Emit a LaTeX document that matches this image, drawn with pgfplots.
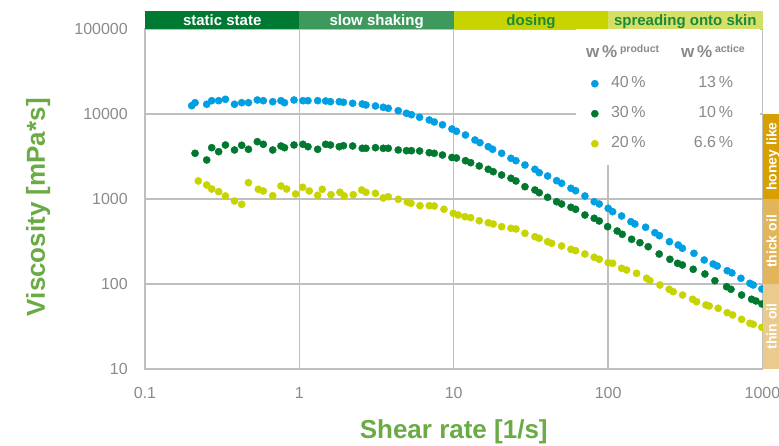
\documentclass[border=0pt]{standalone}
\usepackage{fontspec}
\setmainfont{Liberation Sans}
\usepackage{pgfplots}
\pgfplotsset{compat=1.18}
\definecolor{cblue}{HTML}{009FE3}
\definecolor{cgreen}{HTML}{00782F}
\definecolor{cyellow}{HTML}{C8D400}
\definecolor{labgreen}{HTML}{6AAB45}
\definecolor{tickgray}{HTML}{8A8A8A}
\definecolor{gridgray}{HTML}{BFBFBF}
\definecolor{bandA}{HTML}{007A33}
\definecolor{bandB}{HTML}{3D9A5C}
\definecolor{bandC}{HTML}{C8D400}
\definecolor{bandD}{HTML}{D5DF66}
\definecolor{bandtext}{HTML}{1A8A3A}
\definecolor{choney}{HTML}{D89F00}
\definecolor{cthick}{HTML}{E3B55A}
\definecolor{cthin}{HTML}{EBCB8D}
\begin{document}
\begin{tikzpicture}[x=1pt,y=1pt]
\begin{axis}[
  at={(0pt,0pt)}, anchor=south west,
  scale only axis, width=617.5pt, height=340pt,
  xmode=log, ymode=log,
  xmin=0.1, xmax=1000, ymin=10, ymax=100000,
  xtick={0.1,1,10,100,1000}, xticklabels={0.1,1,10,100,1000},
  ytick={10,100,1000,10000,100000}, yticklabels={10,100,1000,10000,100000},
  xminorticks=false, yminorticks=false,
  major tick length=0pt,
  grid=major, major grid style={draw=gridgray, line width=1.3pt},
  axis line style={draw=gridgray, line width=1.3pt},
  tick label style={font=\fontsize{16}{16}\selectfont, text=tickgray},
  xticklabel style={anchor=north, inner sep=0pt, yshift=-18pt},
  yticklabel style={anchor=east, inner sep=0pt, xshift=-17pt},
  xlabel={Shear rate [1/s]}, ylabel={Viscosity [mPa*s]},
  label style={font=\fontsize{26}{26}\selectfont\bfseries, text=labgreen},
  xlabel style={at={(axis description cs:0.5,-0.185)}, anchor=center},
  ylabel style={at={(axis description cs:-0.173,0.476)}, anchor=center},
  legend cell align=left,
  legend image code/.code={\fill (0pt,0pt) circle (3.6pt);},
  legend style={at={(axis description cs:0.722,0.972)}, anchor=north west,
    draw=none, fill=none, inner sep=0pt, row sep=0pt, column sep=12.4pt,
    font=\fontsize{16}{16}\selectfont, text=tickgray,
    nodes={inner xsep=0pt, inner ysep=7pt, text height=12pt, text depth=4pt}},
]
\fill[white] (rel axis cs:0.698,0.6) rectangle (rel axis cs:0.996,0.999);
\addlegendimage{empty legend}
\addlegendentry{\hspace*{-25pt}\makebox[95pt][l]{\fontsize{17}{17}\selectfont\bfseries w\,\%\,\raisebox{5pt}{\fontsize{10.5}{10.5}\selectfont product}}{\fontsize{17}{17}\selectfont\bfseries w\,\%\,\raisebox{5pt}{\fontsize{10.5}{10.5}\selectfont actice}}}
\addplot[only marks, mark=*, mark size=3.6pt, color=cblue] coordinates {
(0.2007,12520) (0.211,13580) (0.251,13010) (0.2704,14340) (0.300,14340) (0.332,14890) (0.380,13010) (0.423,13580) (0.468,13580) (0.534,14610) (0.584,14340) (0.672,13950) (0.760,14340) (0.801,13580) (0.923,14610) (1.055,14340) (1.137,14340) (1.314,14340) (1.480,14220) (1.590,13950) (1.813,13950) (1.930,13730) (2.214,13360) (2.555,13110) (2.700,12760) (3.111,12420) (3.495,11990) (3.765,11670) (4.37,10930) (4.94,10190) (5.32,9810) (6.01,9150) (6.94,8500) (7.48,8050) (8.45,7465) (9.73,6660) (10.41,6260) (11.91,5660) (13.72,4944) (14.78,4597) (16.73,4125) (17.86,3843) (20.43,3449) (23.48,3011) (25.28,2821) (28.92,2512) (33.57,2236) (35.79,2039) (40.56,1865) (46.39,1642) (49.99,1530) (57.43,1336) (61.58,1252) (70.74,1085) (81.28,929) (87.6,873) (100.1,777) (106.9,709) (122.3,631) (140.5,541) (149.1,508) (175.0,465) (201.0,401) (214.9,370) (249.5,314.5) (284.4,287.6) (302.8,263) (359.5,229.7) (419.3,191.6) (479.4,171.9) (508.8,162.8) (590.8,143.4) (633.7,135) (724.6,116.7) (828.7,101.9) (870.7,97.3) (991,87.3)
};
\addlegendentry{\makebox[70pt][l]{40\,\%}\makebox[52pt][r]{13\,\%}}
\addplot[only marks, mark=*, mark size=3.6pt, color=cgreen] coordinates {
(0.211,3449) (0.251,2876) (0.2704,4013) (0.300,3602) (0.332,4318) (0.380,3771) (0.423,4283) (0.468,3843) (0.534,4722) (0.584,4400) (0.672,3771) (0.760,4202) (0.801,4013) (0.923,4318) (1.055,4400) (1.137,4123) (1.314,3843) (1.480,4400) (1.590,4318) (1.813,4123) (1.930,4238) (2.214,4202) (2.555,3948) (2.700,3948) (3.111,4013) (3.495,3948) (3.765,3948) (4.37,3771) (4.94,3700) (5.32,3700) (6.01,3670) (6.94,3505) (7.48,3449) (8.45,3293) (9.73,3077) (10.41,3036) (11.91,2821) (12.87,2674) (14.63,2445) (16.73,2236) (18.02,2095) (20.43,1916) (23.48,1752) (25.28,1629) (28.92,1395) (33.57,1276) (35.79,1186) (40.56,1047) (46.39,929) (49.99,873) (57.43,798.6) (61.58,756.8) (70.74,648.3) (81.28,592.9) (87.6,551) (99.3,472.3) (114.5,420.2) (123.4,384.3) (142,335.7) (160.7,306.1) (181.8,274.7) (214.2,225.4) (251.3,195.3) (281.8,175.2) (302.8,167.3) (355.8,148.9) (423.6,131.1) (491.7,109.3) (585.5,92.9) (625,86.6) (732.3,74.2) (850,66.1) (907,63.1) (991,58.2)
};
\addlegendentry{\makebox[70pt][l]{30\,\%}\makebox[52pt][r]{10\,\%}}
\addplot[only marks, mark=*, mark size=3.6pt, color=cyellow] coordinates {
(0.2214,1629) (0.251,1461) (0.2704,1311) (0.300,1219) (0.332,1085) (0.380,947) (0.423,866) (0.468,1555) (0.542,1301) (0.584,1242) (0.672,1094) (0.760,1422) (0.827,1311) (0.946,1145) (1.050,1373) (1.159,1242) (1.314,1106) (1.407,1301) (1.602,1124) (1.832,1199) (1.953,1085) (2.234,1124) (2.532,1276) (2.700,1199) (3.11,1167) (3.495,1028) (3.765,1064) (4.37,992) (5.0,922) (5.28,890) (6.04,834) (6.94,834) (7.48,827) (8.64,757) (9.93,679) (10.69,648) (11.82,619) (12.87,603) (14.63,555) (16.73,526) (18.02,508) (20.43,472) (23.48,452) (25.28,444) (28.92,395) (33.57,360) (35.79,345) (40.56,314.5) (43.07,301) (49.99,280) (57.43,256) (61.58,246.6) (70.74,225.4) (81.28,206.2) (87.6,195.3) (100.1,178.1) (106.9,175.2) (122.3,153) (131.8,146.1) (152.9,133.6) (177.6,116.7) (186.5,109.3) (216.5,97.3) (248.7,86.6) (264,81.2) (303.7,74.2) (352.6,66.1) (374.3,61.9) (429.9,56.6) (451.6,55.1) (516.5,51.8) (590.8,46) (640.3,43.2) (732.3,38.4) (828.7,34.5) (870.7,33.6) (991,30.9)
};
\addlegendentry{\makebox[70pt][l]{20\,\%}\makebox[52pt][r]{6.6\,\%}}
\end{axis}
% top bands
\fill[bandA] (0,340) rectangle (154.4,358);
\fill[bandB] (154.4,340) rectangle (308.8,358);
\fill[bandC] (308.8,340) rectangle (463.1,358);
\fill[bandD] (463.1,340) rectangle (617.5,358);
\begin{scope}[every node/.style={font=\fontsize{15}{15}\selectfont\bfseries, inner sep=0pt, anchor=base}]
\node[text=white] at (77.2,343.8) {static state};
\node[text=white] at (231.6,343.8) {slow shaking};
\node[text=bandtext] at (386,343.8) {dosing};
\node[text=bandtext] at (540.3,343.8) {spreading onto skin};
\end{scope}
% right bands
\fill[choney] (617.5,170) rectangle (645,255);
\fill[cthick] (617.5,85) rectangle (645,170);
\fill[cthin] (617.5,0) rectangle (645,85);
\begin{scope}[every node/.style={font=\fontsize{14}{14}\selectfont\bfseries, text=white, inner sep=0pt, rotate=90, anchor=base}]
\node at (631.5,212.5) {honey like};
\node at (631.5,127.5) {thick oil};
\node at (631.5,42.5) {thin oil};
\end{scope}
\pgfresetboundingbox
\path[use as bounding box] (-145,-77) rectangle (634,369);
\end{tikzpicture}
\end{document}
